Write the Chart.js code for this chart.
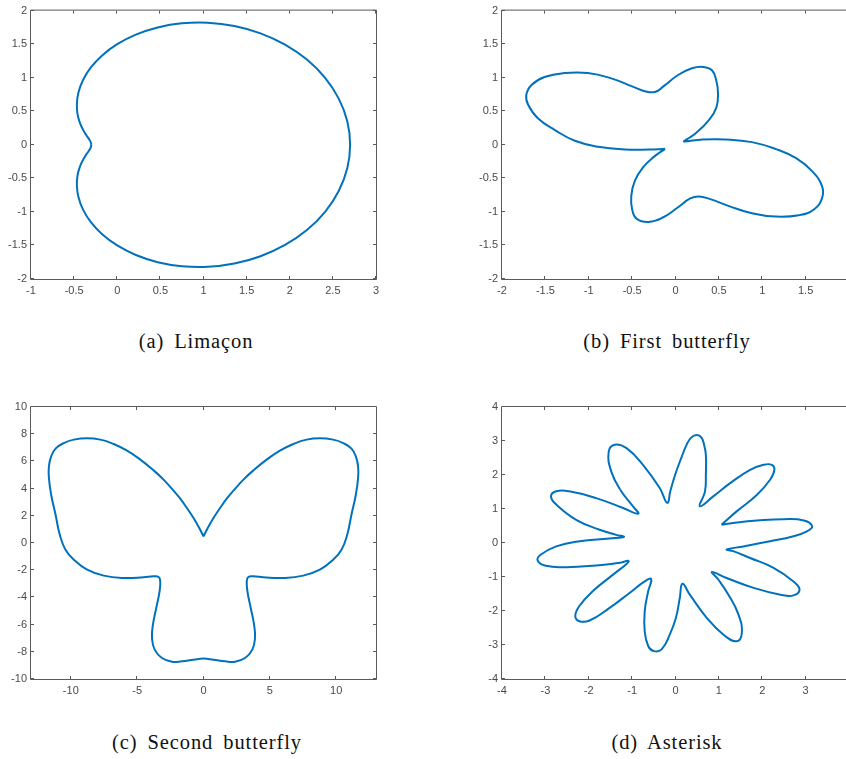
<!DOCTYPE html>
<html>
<head>
<meta charset="utf-8">
<script src="https://cdn.jsdelivr.net/npm/chart.js@4.4.1/dist/chart.umd.min.js"></script>
<style>
  body { margin: 0; background: #fff; }
  #fig { position: relative; width: 846px; height: 759px; overflow: hidden; background: #fff; }
  #fig canvas { position: absolute; }
  .cap {
    position: absolute; width: 320px; text-align: center;
    font-family: "Liberation Serif", serif; font-size: 20.5px; line-height: 22px;
    letter-spacing: 0.9px; word-spacing: 4px; color: #111;
  }
</style>
</head>
<body>
<div id="fig">
  <canvas id="chart-a" width="423" height="300" style="left:0;top:0"></canvas>
  <canvas id="chart-b" width="440" height="300" style="left:423px;top:0"></canvas>
  <canvas id="chart-c" width="423" height="310" style="left:0;top:395px"></canvas>
  <canvas id="chart-d" width="440" height="310" style="left:423px;top:395px"></canvas>
  <div class="cap" style="left:36px;top:330px">(a) Limaçon</div>
  <div class="cap" style="left:507px;top:330px">(b) First butterfly</div>
  <div class="cap" style="left:47px;top:731px">(c) Second butterfly</div>
  <div class="cap" style="left:507px;top:731px">(d) Asterisk</div>
</div>
<script>
// (a) Limaçon, points (starts at the dimple)
const limaconX = [-0.300, -0.308, -0.329, -0.362, -0.399, -0.435, -0.461, -0.468, -0.450, -0.398, -0.308, -0.175, 0.000, 0.216, 0.469, 0.750,
  1.050, 1.358, 1.661, 1.945, 2.199, 2.410, 2.568, 2.667, 2.700,
  2.667, 2.568, 2.410, 2.199, 1.945, 1.661, 1.358, 1.050, 0.750, 0.469, 0.216, 0.000, -0.175, -0.308, -0.398,
  -0.450, -0.468, -0.461, -0.435, -0.399, -0.362, -0.329, -0.308, -0.300];
const limaconY = [0.000, 0.041, 0.088, 0.150, 0.230, 0.334, 0.461, 0.610, 0.779, 0.962, 1.149, 1.332, 1.500, 1.642, 1.749, 1.810,
  1.819, 1.770, 1.661, 1.493, 1.270, 0.998, 0.688, 0.351, 0.000,
  -0.351, -0.688, -0.998, -1.270, -1.493, -1.661, -1.770, -1.819, -1.810, -1.749, -1.642, -1.500, -1.332, -1.149, -0.962,
  -0.779, -0.610, -0.461, -0.334, -0.230, -0.150, -0.088, -0.041, 0.000];

// (b) First butterfly (starts at the lower cusp)
const butterfly1X = [-0.12, -0.31, -0.58, -0.89, -1.16, -1.39, -1.59, -1.70, -1.72, -1.66, -1.51, -1.28, -1.01, -0.74, -0.50, -0.33, -0.23, -0.14,
  0.03, 0.19, 0.32, 0.42, 0.47, 0.49, 0.47, 0.38, 0.24, 0.13, 0.10,
  0.31, 0.58, 0.88, 1.15, 1.39, 1.58, 1.69, 1.69, 1.60, 1.42, 1.15, 0.88, 0.61, 0.40, 0.27, 0.17,
  0.03, -0.14, -0.31, -0.45, -0.50, -0.51, -0.47, -0.37, -0.25, -0.12];
const butterfly1Y = [-0.06, -0.07, -0.07, -0.03, 0.06, 0.22, 0.40, 0.60, 0.74, 0.89, 1.01, 1.07, 1.07, 0.99, 0.87, 0.79, 0.79, 0.87,
  1.04, 1.14, 1.16, 1.11, 0.96, 0.77, 0.55, 0.36, 0.18, 0.08, 0.05,
  0.08, 0.08, 0.04, -0.06, -0.20, -0.40, -0.62, -0.79, -0.96, -1.05, -1.07, -1.02, -0.91, -0.81, -0.77, -0.80,
  -0.93, -1.08, -1.15, -1.10, -0.96, -0.76, -0.54, -0.33, -0.18, -0.06];

// (c) Second butterfly (starts at the top cusp)
const butterfly2X = [0, 0.25, 0.75, 1.25, 1.75, 2.26, 3.01, 3.76, 4.76, 5.76, 6.77, 7.77, 8.77, 9.77, 10.53, 11.15, 11.48, 11.65, 11.65,
  11.48, 11.15, 10.83, 10.40, 9.77, 8.77, 7.52, 6.02, 4.51, 3.76,
  3.38, 3.26, 3.31, 3.56, 3.81, 3.88, 3.68, 3.13, 2.38, 1.63, 0.75, 0,
  -0.75, -1.63, -2.38, -3.13, -3.68, -3.88, -3.81, -3.56, -3.31, -3.26, -3.38,
  -3.76, -4.51, -6.02, -7.52, -8.77, -9.77, -10.40, -10.83, -11.15, -11.48,
  -11.65, -11.65, -11.48, -11.15, -10.53, -9.77, -8.77, -7.77, -6.77, -5.76, -4.76, -3.76, -3.01, -2.26, -1.75, -1.25, -0.75, -0.25, 0];
const butterfly2Y = [0.49, 0.98, 1.84, 2.57, 3.26, 3.85, 4.66, 5.34, 6.13, 6.79, 7.28, 7.60, 7.70, 7.60, 7.35, 6.94, 6.37, 5.64, 4.78,
  3.55, 2.08, 0.61, -0.49, -1.23, -1.96, -2.40, -2.57, -2.52, -2.45,
  -2.50, -2.80, -3.55, -4.78, -6.00, -6.99, -7.84, -8.46, -8.73, -8.70, -8.58, -8.50,
  -8.58, -8.70, -8.73, -8.46, -7.84, -6.99, -6.00, -4.78, -3.55, -2.80, -2.50,
  -2.45, -2.52, -2.57, -2.40, -1.96, -1.23, -0.49, 0.61, 2.08, 3.55,
  4.78, 5.64, 6.37, 6.94, 7.35, 7.60, 7.70, 7.60, 7.28, 6.79, 6.13, 5.34, 4.66, 3.85, 3.26, 2.57, 1.84, 0.98, 0.49];

// (d) Asterisk (starts at an inner valley, goes counter-clockwise)
const asteriskX = [1.06, 1.41, 1.88, 2.18, 2.28, 2.22, 2.03, 1.72, 1.26, 0.87, 0.56,
  0.68, 0.70, 0.70, 0.66, 0.60, 0.49, 0.36, 0.26, 0.13, -0.01, -0.12, -0.19,
  -0.36, -0.75, -1.13, -1.40, -1.54, -1.48, -1.25, -0.98, -0.86,
  -1.21, -1.83, -2.45, -2.75, -2.87, -2.75, -2.29, -1.75, -1.37, -1.19,
  -1.52, -2.21, -2.75, -3.10, -3.18, -2.99, -2.52, -1.83, -1.33, -1.08,
  -1.44, -1.91, -2.22, -2.31, -2.22, -1.98, -1.52, -1.06, -0.71, -0.56,
  -0.63, -0.71, -0.71, -0.63, -0.50, -0.32, -0.13, 0.01, 0.10, 0.16,
  0.33, 0.72, 1.10, 1.41, 1.53, 1.45, 1.22, 0.99, 0.84,
  1.18, 1.80, 2.42, 2.72, 2.86, 2.72, 2.26, 1.72, 1.33, 1.18,
  1.57, 2.18, 2.72, 3.03, 3.15, 2.96, 2.49, 1.88, 1.33, 1.06];
const asteriskY = [0.54, 0.93, 1.42, 1.86, 2.15, 2.30, 2.30, 2.15, 1.76, 1.37, 1.08,
  1.52, 2.01, 2.59, 2.88, 3.10, 3.18, 3.10, 2.90, 2.49, 2.00, 1.52, 1.18,
  1.61, 2.30, 2.79, 2.89, 2.69, 2.10, 1.52, 1.08, 0.86,
  1.03, 1.32, 1.52, 1.52, 1.37, 1.13, 0.68, 0.39, 0.24, 0.18,
  0.13, 0.05, -0.10, -0.34, -0.51, -0.67, -0.71, -0.66, -0.59, -0.54,
  -0.93, -1.42, -1.86, -2.15, -2.30, -2.28, -1.91, -1.47, -1.13, -1.06,
  -1.42, -2.01, -2.59, -3.03, -3.18, -3.13, -2.69, -2.20, -1.61, -1.20,
  -1.52, -2.20, -2.69, -2.89, -2.64, -2.10, -1.52, -1.08, -0.85,
  -1.03, -1.32, -1.52, -1.54, -1.37, -1.13, -0.73, -0.44, -0.24, -0.19,
  -0.10, 0.05, 0.20, 0.34, 0.49, 0.66, 0.70, 0.66, 0.59, 0.54];

// tick values for each panel
const ticksA_X = [-1, -0.5, 0, 0.5, 1, 1.5, 2, 2.5, 3];
const ticksA_Y = [-2, -1.5, -1, -0.5, 0, 0.5, 1, 1.5, 2];
const ticksB_X = [-2, -1.5, -1, -0.5, 0, 0.5, 1, 1.5, 2];
const ticksB_Y = [-2, -1.5, -1, -0.5, 0, 0.5, 1, 1.5, 2];
const ticksC_X = [-10, -5, 0, 5, 10];
const ticksC_Y = [-10, -8, -6, -4, -2, 0, 2, 4, 6, 8, 10];
const ticksD_X = [-4, -3, -2, -1, 0, 1, 2, 3, 4];
const ticksD_Y = [-4, -3, -2, -1, 0, 1, 2, 3, 4];

const lineColor = '#0072BD';
const axisColor = '#5a5a5a';
const labelColor = '#4a4a4a';

// MATLAB-like box: frame on all four sides with inward tick marks
const boxPlugin = {
  id: 'box',
  afterDraw(chart) {
    const { ctx, chartArea: a, scales } = chart;
    const x = scales.x, y = scales.y;
    ctx.save();
    ctx.strokeStyle = axisColor;
    ctx.lineWidth = 1;
    ctx.beginPath();
    ctx.rect(a.left - 0.5, a.top - 0.5, a.right - a.left + 1, a.bottom - a.top + 1);
    x.ticks.forEach(t => {
      const px = Math.round(x.getPixelForValue(t.value)) - 0.5;
      ctx.moveTo(px, a.bottom); ctx.lineTo(px, a.bottom - 3);
      ctx.moveTo(px, a.top); ctx.lineTo(px, a.top + 3);
    });
    y.ticks.forEach(t => {
      const py = Math.round(y.getPixelForValue(t.value)) - 0.5;
      ctx.moveTo(a.left, py); ctx.lineTo(a.left + 3, py);
      ctx.moveTo(a.right, py); ctx.lineTo(a.right - 3, py);
    });
    ctx.stroke();
    ctx.restore();
  }
};

function toPoints(xs, ys) {
  return xs.map((v, i) => ({ x: v, y: ys[i] }));
}

function makeAxis(min, max, tickValues, fixed, isX) {
  return {
    type: 'linear',
    position: isX ? 'bottom' : 'left',
    min: min,
    max: max,
    grid: { display: false, drawTicks: false, tickLength: 0 },
    border: { display: false },
    afterBuildTicks: s => { s.ticks = tickValues.map(v => ({ value: v })); },
    afterFit: s => { if (isX) s.height = fixed; else s.width = fixed; },
    ticks: {
      autoSkip: false,
      maxRotation: 0,
      padding: isX ? 5 : 4,
      color: labelColor,
      font: { family: 'Liberation Sans, Arial, sans-serif', size: 11 },
      callback: v => String(v)
    }
  };
}

function createCurveChart(id, xs, ys, xr, yr, xt, yt, box) {
  const ctx = document.getElementById(id).getContext('2d');
  return new Chart(ctx, {
    type: 'scatter',
    data: {
      datasets: [{
        data: toPoints(xs, ys),
        showLine: true,
        borderColor: lineColor,
        borderWidth: 2,
        pointRadius: 0,
        tension: 0.45,
        fill: false
      }]
    },
    options: {
      responsive: false,
      animation: false,
      events: [],
      layout: { padding: { left: 0, top: box.top, right: box.right, bottom: 0 } },
      plugins: { legend: { display: false }, tooltip: { enabled: false } },
      scales: {
        x: makeAxis(xr[0], xr[1], xt, box.xh, true),
        y: makeAxis(yr[0], yr[1], yt, box.yw, false)
      }
    },
    plugins: [boxPlugin]
  });
}

createCurveChart('chart-a', limaconX, limaconY, [-1, 3], [-2, 2], ticksA_X, ticksA_Y, { top: 6, right: 47, xh: 21, yw: 31 });
createCurveChart('chart-b', butterfly1X, butterfly1Y, [-2, 2], [-2, 2], ticksB_X, ticksB_Y, { top: 6, right: 14, xh: 21, yw: 79 });
createCurveChart('chart-c', butterfly2X, butterfly2Y, [-13, 13], [-10, 10], ticksC_X, ticksC_Y, { top: 12, right: 47, xh: 26, yw: 31 });
createCurveChart('chart-d', asteriskX, asteriskY, [-4, 4], [-4, 4], ticksD_X, ticksD_Y, { top: 12, right: 14, xh: 26, yw: 79 });
</script>
</body>
</html>
